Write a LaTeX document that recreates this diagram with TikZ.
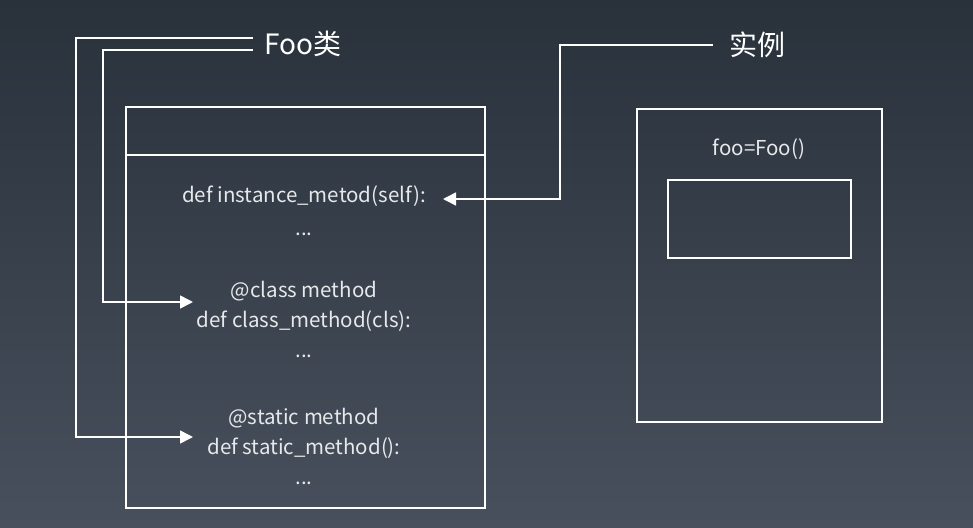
\documentclass[tikz,border=0pt]{standalone}
\usepackage{fontspec}
\setmainfont{Noto Sans CJK SC}
\usetikzlibrary{arrows.meta, positioning}
\definecolor{bgtop}{RGB}{41,49,59}
\definecolor{bgbottom}{RGB}{71,80,92}
\definecolor{codegray}{RGB}{230,232,234}
\tikzset{
  frame/.style={draw=white, line width=1.6pt, inner sep=0pt, anchor=north west},
  code/.style={text=codegray, font=\fontsize{20.5}{24}\selectfont, inner sep=0pt, anchor=base},
  tag/.style={text=white, font=\fontsize{28}{32}\selectfont, inner sep=0pt, anchor=west},
  wire/.style={draw=white, line width=1.6pt},
  link/.style={wire, -{Triangle[length=13pt, width=13pt]}},
}

\begin{document}
\begin{tikzpicture}[x=1pt, y=-1pt]
  \shade[top color=bgtop, bottom color=bgbottom] (0,0) rectangle (973,527);
  \useasboundingbox (0,0) rectangle (973,527);

  % class box
  \node[frame, minimum width=359pt, minimum height=401pt] (clsbox) at (125,106) {};
  \coordinate (divl) at (125,155);
  \coordinate (divr) at (484,155);
  \draw[wire] (divl) -- (divr);

  \node[code] (instdef) at (304,202) {def instance\_metod(self):};
  \node[code] (instdots) at (304,235) {...};
  \node[code] (clsdeco) at (304,297) {@class method};
  \node[code] (clsdef) at (304,327) {def class\_method(cls):};
  \node[code] (clsdots) at (304,357) {...};
  \node[code] (statdeco) at (304,424) {@static method};
  \node[code] (statdef) at (304,454) {def static\_method():};
  \node[code] (statdots) at (304,484) {...};

  % instance box
  \node[frame, minimum width=245pt, minimum height=313pt] (objbox) at (636,108) {};
  \node[code] (objname) at (759,155) {foo=Foo()};
  \node[frame, minimum width=183pt, minimum height=78pt] (objslot) at (667,179) {};

  % labels
  \node[tag] (foolbl) at (264,44) {Foo类};
  \node[tag] (objlbl) at (729,45) {实例};

  \coordinate (insttip) at (443,199);
  \coordinate (clstip) at (193,302);
  \coordinate (stattip) at (193,437);

  \draw[link] ([xshift=-11pt, yshift=6pt]foolbl.west) -| ([xshift=-117pt]stattip) -- (stattip);
  \draw[link] ([xshift=-11pt, yshift=-6pt]foolbl.west) -| ([xshift=-90pt]clstip) -- (clstip);
  \draw[link] ([xshift=-16pt]objlbl.west) -| ([xshift=117pt]insttip) -- (insttip);
\end{tikzpicture}
\end{document}
